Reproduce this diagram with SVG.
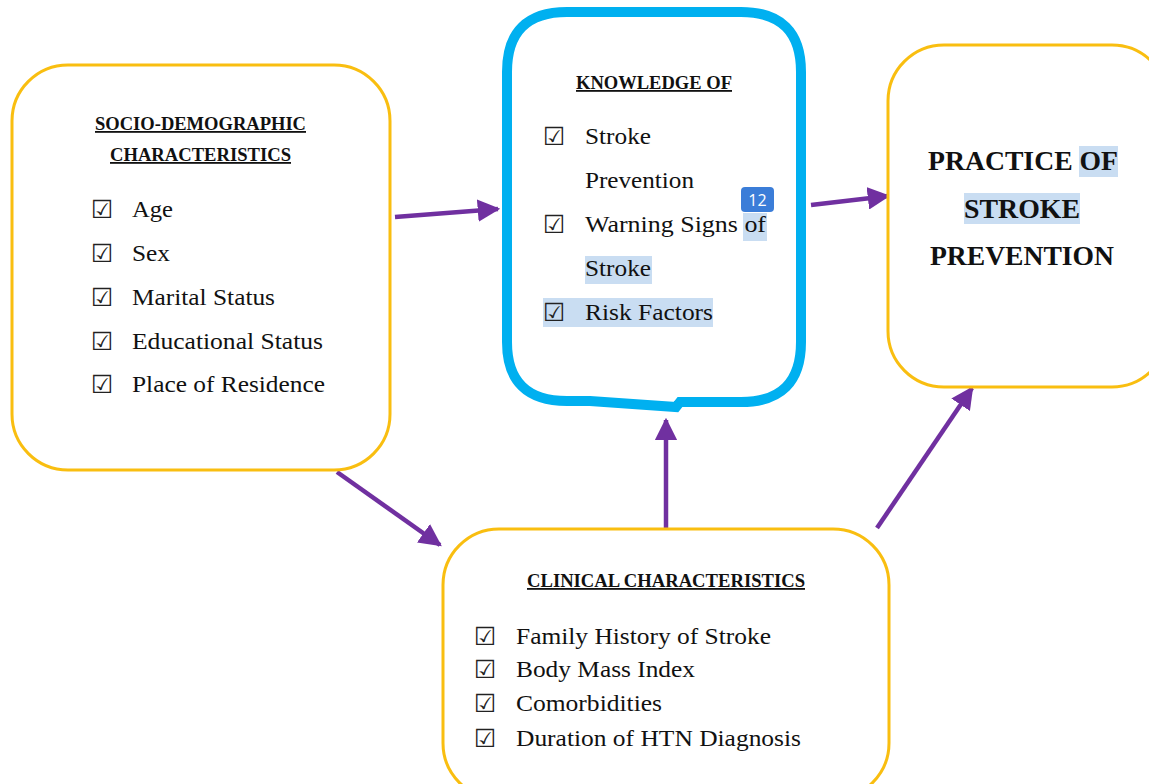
<svg xmlns="http://www.w3.org/2000/svg" width="1149" height="784" viewBox="0 0 1149 784">
<defs>
<marker id="ah" viewBox="0 0 10 10" refX="9" refY="5" markerWidth="5" markerHeight="5" markerUnits="strokeWidth" orient="auto">
<path d="M0,0 L10,5 L0,10 z" fill="#7030A0"/>
</marker>
</defs>
<style>
.box{fill:#fff;stroke:#F9BE10;stroke-width:3}
.kbox{fill:#fff;stroke:#00B0F0;stroke-width:10}
.hd{font-family:"Liberation Serif",serif;font-weight:bold;font-size:18px;fill:#111;text-decoration:underline}
.it{font-family:"Liberation Serif",serif;font-size:24px;fill:#111}
.cb{font-family:"DejaVu Sans",sans-serif;font-size:25px;fill:#222}
.big{font-family:"Liberation Serif",serif;font-weight:bold;font-size:27px;fill:#111}
.hl{fill:#C9DDF2}
.con{stroke:#7030A0;stroke-width:4.5;fill:none;marker-end:url(#ah)}
</style>
<rect width="1149" height="784" fill="#fff"/>
<g id="connectors">
<line class="con" x1="395" y1="217" x2="498" y2="209"/>
<line class="con" x1="811" y1="205" x2="888" y2="196"/>
<line class="con" x1="337" y1="472" x2="440" y2="545"/>
<line class="con" x1="666" y1="528" x2="666" y2="420"/>
<line class="con" x1="877" y1="528" x2="972" y2="388"/>
</g>
<g id="socio">
<rect class="box" x="12" y="65" width="378" height="405" rx="56"/>
<text class="hd" x="95" y="130" textLength="211" lengthAdjust="spacingAndGlyphs">SOCIO-DEMOGRAPHIC</text>
<text class="hd" x="110" y="161" textLength="181" lengthAdjust="spacingAndGlyphs">CHARACTERISTICS</text>
<text class="cb" x="91" y="218">☑</text><text class="it" x="132" y="217" textLength="41" lengthAdjust="spacingAndGlyphs">Age</text>
<text class="cb" x="91" y="262">☑</text><text class="it" x="132" y="261" textLength="38" lengthAdjust="spacingAndGlyphs">Sex</text>
<text class="cb" x="91" y="306">☑</text><text class="it" x="132" y="305" textLength="143" lengthAdjust="spacingAndGlyphs">Marital Status</text>
<text class="cb" x="91" y="350">☑</text><text class="it" x="132" y="349" textLength="191" lengthAdjust="spacingAndGlyphs">Educational Status</text>
<text class="cb" x="91" y="393">☑</text><text class="it" x="132" y="392" textLength="193" lengthAdjust="spacingAndGlyphs">Place of Residence</text>
</g>
<g id="knowledge">
<path class="kbox" d="M567,12 H741 Q801,12 801,72 V342 Q801,402 741,402 H680 L676,407 L590,401 H567 Q507,401 507,342 V72 Q507,12 567,12 Z"/>
<rect class="hl" x="743" y="213" width="24" height="28"/>
<rect class="hl" x="585" y="256" width="67" height="28"/>
<rect class="hl" x="543" y="298" width="170" height="29"/>
<text class="hd" x="576" y="89" textLength="156" lengthAdjust="spacingAndGlyphs">KNOWLEDGE OF</text>
<text class="cb" x="543" y="145">☑</text><text class="it" x="585" y="144" textLength="66" lengthAdjust="spacingAndGlyphs">Stroke</text>
<text class="it" x="585" y="188" textLength="109" lengthAdjust="spacingAndGlyphs">Prevention</text>
<text class="cb" x="543" y="233">☑</text><text class="it" x="585" y="232" textLength="181" lengthAdjust="spacingAndGlyphs">Warning Signs of</text>
<text class="it" x="585" y="276" textLength="66" lengthAdjust="spacingAndGlyphs">Stroke</text>
<text class="cb" x="543" y="321">☑</text><text class="it" x="585" y="320" textLength="128" lengthAdjust="spacingAndGlyphs">Risk Factors</text>
<rect x="741" y="187" width="33" height="25" rx="4" fill="#3B7DD8"/>
<text x="757.5" y="206" text-anchor="middle" font-family="'Open Sans',sans-serif" font-size="16" fill="#fff">12</text>
</g>
<g id="practice">
<rect class="box" x="888" y="45" width="280" height="342" rx="56"/>
<rect class="hl" x="1079" y="146" width="39" height="31"/>
<rect class="hl" x="964" y="193" width="116" height="31"/>
<text class="big" x="928" y="170" textLength="190" lengthAdjust="spacingAndGlyphs">PRACTICE OF</text>
<text class="big" x="964" y="218" textLength="116" lengthAdjust="spacingAndGlyphs">STROKE</text>
<text class="big" x="930" y="265" textLength="184" lengthAdjust="spacingAndGlyphs">PREVENTION</text>
</g>
<g id="clinical">
<rect class="box" x="443" y="529" width="446" height="270" rx="56"/>
<text class="hd" x="527" y="587" textLength="278" lengthAdjust="spacingAndGlyphs">CLINICAL CHARACTERISTICS</text>
<text class="cb" x="474" y="645">☑</text><text class="it" x="516" y="644" textLength="255" lengthAdjust="spacingAndGlyphs">Family History of Stroke</text>
<text class="cb" x="474" y="678">☑</text><text class="it" x="516" y="677" textLength="179" lengthAdjust="spacingAndGlyphs">Body Mass Index</text>
<text class="cb" x="474" y="712">☑</text><text class="it" x="516" y="711" textLength="146" lengthAdjust="spacingAndGlyphs">Comorbidities</text>
<text class="cb" x="474" y="747">☑</text><text class="it" x="516" y="746" textLength="285" lengthAdjust="spacingAndGlyphs">Duration of HTN Diagnosis</text>
</g>
</svg>
